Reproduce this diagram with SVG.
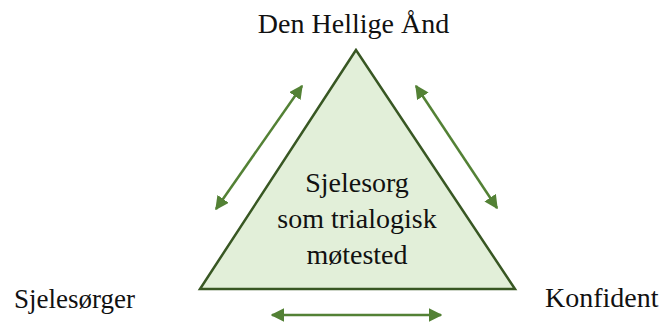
<svg xmlns="http://www.w3.org/2000/svg" width="663" height="322" viewBox="0 0 663 322">
<style>
.con{stroke:#538135;stroke-width:2.5;fill:none;marker-start:url(#ah);marker-end:url(#ah)}
</style>
<defs>
<marker id="ah" viewBox="0 0 10 10" refX="9" refY="5" markerWidth="5.5" markerHeight="5.5" orient="auto-start-reverse">
<path d="M0,0 L10,5 L0,10 z" fill="#538135"/>
</marker>
</defs>
<rect width="663" height="322" fill="#fff"/>
<g id="triangle">
<polygon points="356,50 200,289 515,289" fill="#e2efd9" stroke="#385723" stroke-width="2.5"/>
<text x="357" y="192" font-family="'Liberation Serif', 'Times New Roman', serif" font-size="28" fill="#111" text-anchor="middle">Sjelesorg</text>
<text x="357" y="228" font-family="'Liberation Serif', 'Times New Roman', serif" font-size="28" fill="#111" text-anchor="middle">som trialogisk</text>
<text x="357" y="264" font-family="'Liberation Serif', 'Times New Roman', serif" font-size="28" fill="#111" text-anchor="middle">møtested</text>
</g>
<g id="top"><text x="353.5" y="33" font-family="'Liberation Serif', 'Times New Roman', serif" font-size="28" fill="#111" text-anchor="middle">Den Hellige Ånd</text></g>
<g id="left"><text x="14" y="308" font-family="'Liberation Serif', 'Times New Roman', serif" font-size="27" fill="#111">Sjelesørger</text></g>
<g id="right"><text x="545" y="307" font-family="'Liberation Serif', 'Times New Roman', serif" font-size="28" fill="#111">Konfident</text></g>
<g id="connectors">
<line class="con" x1="216" y1="209" x2="302" y2="86"/>
<line class="con" x1="416" y1="86" x2="497" y2="208"/>
<line class="con" x1="272" y1="315" x2="441" y2="315"/>
</g>
</svg>
